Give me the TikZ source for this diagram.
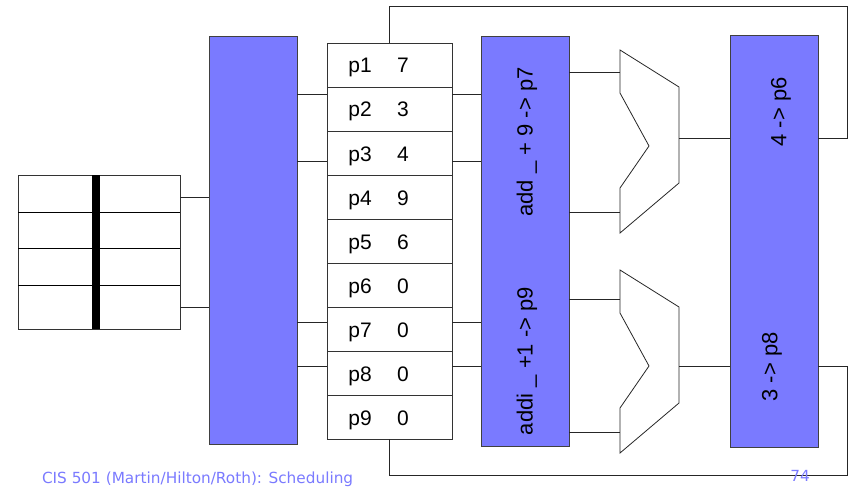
\documentclass[tikz,border=0pt]{standalone}
\usepackage{fontspec}
\setmainfont{Liberation Sans}
\newfontfamily\footfont{DejaVu Sans}
\usepackage{tikz}
\usetikzlibrary{positioning}
\definecolor{stage}{RGB}{122,122,255}

\begin{document}
\begin{tikzpicture}[
  x=1pt, y=-1pt,
  every node/.style={inner sep=0pt, outer sep=0pt},
  stage box/.style={draw=black!75, fill=stage, minimum width=88pt, anchor=north west},
  reg row/.style={draw=black!80, line width=0.9pt, minimum width=125pt, minimum height=44pt, anchor=north west},
  reg text/.style={anchor=base, font=\fontsize{21}{25}\selectfont},
  wire/.style={draw=black!85, line width=0.8pt},
  op text/.style={rotate=90, font=\fontsize{22}{26}\selectfont},
  foot text/.style={text=stage, font=\footfont\fontsize{15.3}{18}\selectfont},
]
\useasboundingbox (0,0) rectangle (853,489);

% instruction queue
\node[draw=black!80, line width=0.8pt, minimum width=162pt, minimum height=154pt, anchor=north west] (queue) at (18,175) {};
\foreach \y in {212,248,285}
  \draw[black, line width=0.8pt] (queue.west |- 0,\y) -- (queue.east |- 0,\y);
\fill[black] (92,175) rectangle (100,329);

% stages
\node[stage box, minimum height=408pt] (select) at (209,36) {};
\node[stage box, minimum height=410pt] (regread) at (481,36) {};
\node[stage box, minimum height=412pt] (writeback) at (730,35) {};

% register file
\foreach \v [count=\i] in {7,3,4,9,6,0,0,0,0} {
  \node[reg row] (r\i) at (327,{43+44*(\i-1)}) {};
  \node[reg text] at (360,{73+44*(\i-1)}) {p\i};
  \node[reg text] at (403,{73+44*(\i-1)}) {\v};
}

% ops in flight
\node[op text] (op1) at (527,142) {add \_ + 9 -> p7};
\node[op text] (op2) at (527,361) {addi \_ +1 -> p9};
\node[op text] (res1) at (781,112) {4 -> p6};
\node[op text] (res2) at (772,367) {3 -> p8};

% ALUs
\foreach \n/\t/\a/\b/\o in {alu1/50/22/162/88, alu2/270/29/162/96} {
  \begin{scope}[shift={(0,\t)}]
  \draw[black!85, line width=0.8pt] (620,0) -- (679,37) -- (679,133) -- (620,183) -- (620,138)
    -- (649,96) -- (620,43) -- cycle;
  \coordinate (\n-in1) at (620,\a);
  \coordinate (\n-in2) at (620,\b);
  \coordinate (\n-out) at (679,\o);
  \end{scope}
}

% wires
\foreach \y in {197,307}
  \draw[wire] (queue.east |- 0,\y) -- (select.west |- 0,\y);
\foreach \y in {94,161,322,366} {
  \draw[wire] (select.east |- 0,\y) -- (r1.west |- 0,\y);
  \draw[wire] (r1.east |- 0,\y) -- (regread.west |- 0,\y);
}
\foreach \n in {alu1,alu2} {
  \draw[wire] (regread.east |- \n-in1) -- (\n-in1);
  \draw[wire] (regread.east |- \n-in2) -- (\n-in2);
  \draw[wire] (\n-out) -- (writeback.west |- \n-out);
}
\draw[wire] (writeback.east |- alu1-out) -| (847,6) -| (r1.north);
\draw[wire] (writeback.east |- alu2-out) -| (847,475) -| (r9.south);

% footer
\node[foot text, anchor=base west] (foot) at (42,483) {CIS 501 (Martin/Hilton/Roth): Scheduling};
\node[foot text] (page) at (800,476) {74};
\end{tikzpicture}
\end{document}
